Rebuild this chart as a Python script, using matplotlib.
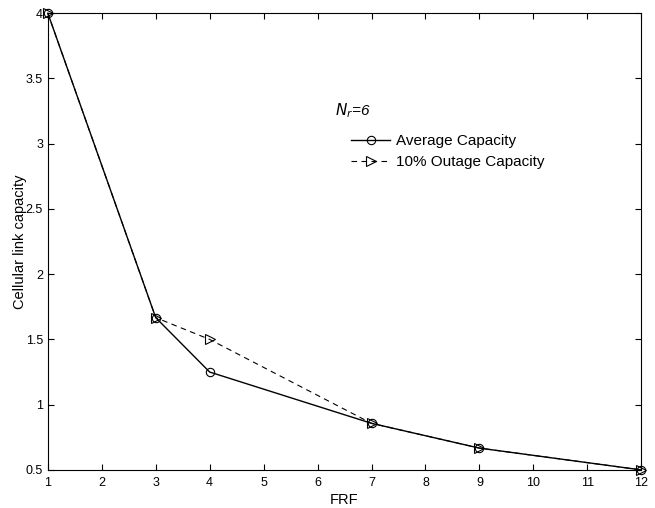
import matplotlib
matplotlib.use('Agg')
import matplotlib.pyplot as plt

plt.rcParams['font.family'] = ['Liberation Sans', 'DejaVu Sans']

frf = [1, 3, 4, 7, 9, 12]
avg_capacity = [4.0, 1.667, 1.25, 0.857, 0.667, 0.5]
outage_capacity = [4.0, 1.667, 1.5, 0.857, 0.667, 0.5]

fig = plt.figure(figsize=(6.55, 5.08), dpi=100)
ax = fig.add_axes([0.073, 0.075, 0.906, 0.899])

ax.plot(frf, avg_capacity, 'k-o', lw=1, ms=6, mfc='none', mew=0.8,
        label='Average Capacity', clip_on=False)
ax.plot(frf, outage_capacity, 'k--', marker='>', lw=0.8, ms=7, mfc='none', mew=0.8,
        dashes=(5, 4), label='10% Outage Capacity', clip_on=False)

ax.set_xlim(1, 12)
ax.set_ylim(0.5, 4)
ax.set_xticks(range(1, 13))
ax.set_yticks([0.5, 1, 1.5, 2, 2.5, 3, 3.5, 4])
ax.set_yticklabels(['0.5', '1', '1.5', '2', '2.5', '3', '3.5', '4'])
ax.tick_params(direction='in', labelsize=9, top=True, right=True, length=4, width=0.8)
ax.tick_params(axis='x', pad=5)
for s in ax.spines.values():
    s.set_linewidth(0.8)
ax.set_xlabel('FRF', fontsize=10.5, labelpad=3)
ax.set_ylabel('Cellular link capacity', fontsize=10.5)
ax.yaxis.set_label_coords(-0.035, 0.5)

ax.text(0.484, 0.777, r'$N_r$=6', transform=ax.transAxes, fontsize=11, style='italic')
ax.legend(loc='upper left', bbox_to_anchor=(0.5, 0.748), frameon=False, fontsize=11,
          handlelength=2.6, handletextpad=0.4, labelspacing=0.45, borderaxespad=0)

fig.savefig('out.png', dpi=100)
